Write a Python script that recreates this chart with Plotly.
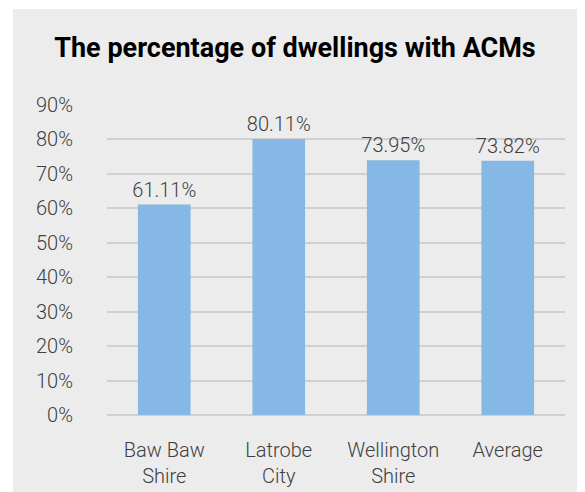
import plotly.graph_objects as go

# data
categories = ["Baw Baw<br>Shire", "Latrobe<br>City", "Wellington<br>Shire", "Average"]
share = [0.6111, 0.8011, 0.7395, 0.7382]
labels = ["61.11%", "80.11%", "73.95%", "73.82%"]

BAR = "#85b8e4"
PANEL = "#ececec"
GRID = "#d0d0d0"
TXT = "#404040"

fig = go.Figure()
fig.add_bar(
    x=categories, y=share, text=labels,
    textposition="outside", cliponaxis=False, constraintext="none",
    textfont=dict(size=20, color=TXT, family="Roboto", weight=300),
    marker=dict(color=BAR, line=dict(width=0)),
)

# page has an 8px body margin, so figure coords = screen - 8
W, H = 585, 492
L, T = 99, 97
R, B = W - 557, H - 410
pw, ph = W - L - R, H - T - B

fig.update_layout(
    width=W, height=H,
    margin=dict(l=L, r=R, t=T, b=B),
    paper_bgcolor="white",
    plot_bgcolor="rgba(0,0,0,0)",
    showlegend=False,
    bargap=0.54,
    font=dict(family="Roboto", size=20, color=TXT, weight=300),
    title=dict(
        text="<b>The percentage of dwellings with ACMs</b>",
        x=(295 - 8) / W, xanchor="center", y=1 - 40 / H, yanchor="middle",
        font=dict(family="Roboto", size=27, color="black", weight=700),
    ),
    shapes=[dict(
        type="rect", xref="paper", yref="paper", layer="below",
        x0=(5 - L) / pw, x1=(W - L) / pw,
        y0=-B / ph, y1=(H - B) / ph,
        fillcolor=PANEL, line=dict(width=0),
    )],
)
fig.update_yaxes(
    range=[0, 0.9], dtick=0.1, tickformat=".0%",
    showgrid=True, gridcolor=GRID, gridwidth=1.5,
    zeroline=True, zerolinecolor=GRID, zerolinewidth=1.5,
    showline=False, ticks="", ticklabelstandoff=33,
    tickfont=dict(size=20, color=TXT),
)
fig.update_xaxes(
    showgrid=False, showline=False, ticks="", ticklabelstandoff=21,
    tickfont=dict(size=20, color=TXT),
)

fig.write_html("out.html")
